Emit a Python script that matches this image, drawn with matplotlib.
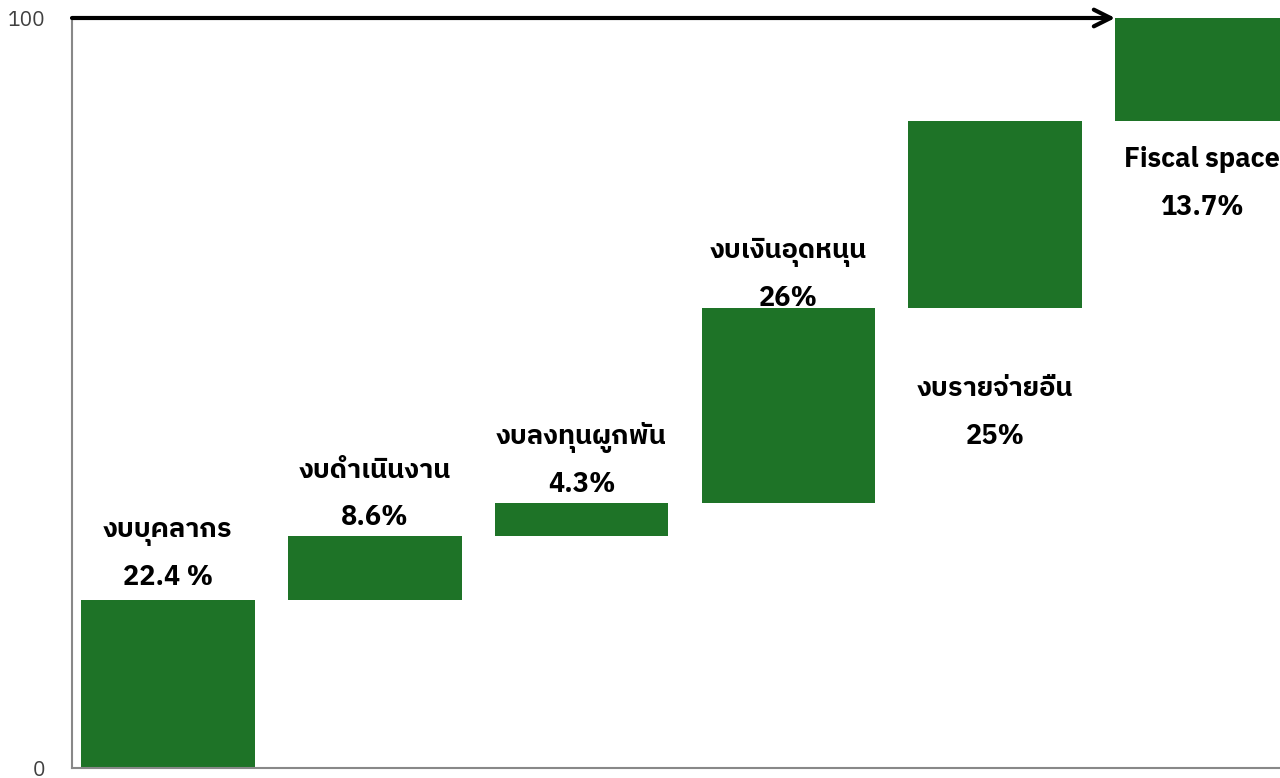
import matplotlib
matplotlib.use('Agg')
import matplotlib.pyplot as plt
from matplotlib import font_manager
from matplotlib.ft2font import FT2Font

# ---- data ----
categories = ["งบบุคลากร", "งบดำเนินงาน", "งบลงทุนผูกพัน", "งบเงินอุดหนุน", "งบรายจ่ายอื่น", "Fiscal space"]
values = [22.4, 8.6, 4.3, 26, 25, 13.7]
value_labels = ["22.4 %", "8.6%", "4.3%", "26%", "25%", "13.7%"]
y_ticks = [0, 100]
y_ticklabels = ["0", "100"]

# ---- layout (label baselines in data units) ----
name_baseline = [30.8, 38.7, 43.2, 68.0, 49.6, 80.1]
line_gap = 6.35

GREEN = '#1e7327'


def find_thai_family():
    best = None
    for f in font_manager.fontManager.ttflist:
        try:
            cmap = FT2Font(f.fname).get_charmap()
        except Exception:
            continue
        if ord('ก') in cmap and ord('ุ') in cmap:
            w = f.weight if isinstance(f.weight, int) else (700 if 'bold' in str(f.weight).lower() else 400)
            score = (1 if w >= 600 else 0, 'sans' in f.name.lower())
            if best is None or score > best[0]:
                best = (score, f.name)
    return best[1] if best else None


thai = find_thai_family()
families = ([thai] if thai else []) + ['DejaVu Sans']

fig = plt.figure(figsize=(12.8, 7.78), dpi=100)
ax = fig.add_axes([72 / 1280, 1 - 768 / 778, 1 - 72 / 1280, (768 - 18) / 778])

x = list(range(len(values)))
bottoms = []
acc = 0
for v in values:
    bottoms.append(acc)
    acc += v
bar_w = 0.84
ax.bar(x, values, bottom=bottoms, width=bar_w, color=GREEN, edgecolor='none', clip_on=True)

ax.set_xlim(-0.464, 5.377)
ax.set_ylim(0, 100)
ax.set_yticks(y_ticks)
ax.set_yticklabels(y_ticklabels, fontsize=15, color='#404040', family=families)
ax.tick_params(axis='y', length=0, pad=19)
ax.set_xticks([])
for s in ['top', 'right']:
    ax.spines[s].set_visible(False)
for s in ['left', 'bottom']:
    ax.spines[s].set_color('#888888')
    ax.spines[s].set_linewidth(1.5)

for i in x:
    ax.text(i, name_baseline[i], categories[i], ha='center', va='baseline',
            fontsize=19.5, fontweight='bold', family=families, color='black')
    ax.text(i, name_baseline[i] - line_gap, value_labels[i], ha='center', va='baseline',
            fontsize=19.5, fontweight='bold', family=families, color='black')

# top arrow
arrow_end = x[-1] - bar_w / 2
ax.annotate('', xy=(arrow_end, 100), xytext=(-0.464, 100),
            xycoords='data', textcoords='data',
            arrowprops=dict(arrowstyle='->', lw=3, color='black', mutation_scale=30,
                            shrinkA=0, shrinkB=0),
            annotation_clip=False)

fig.savefig('out.png', dpi=100)
